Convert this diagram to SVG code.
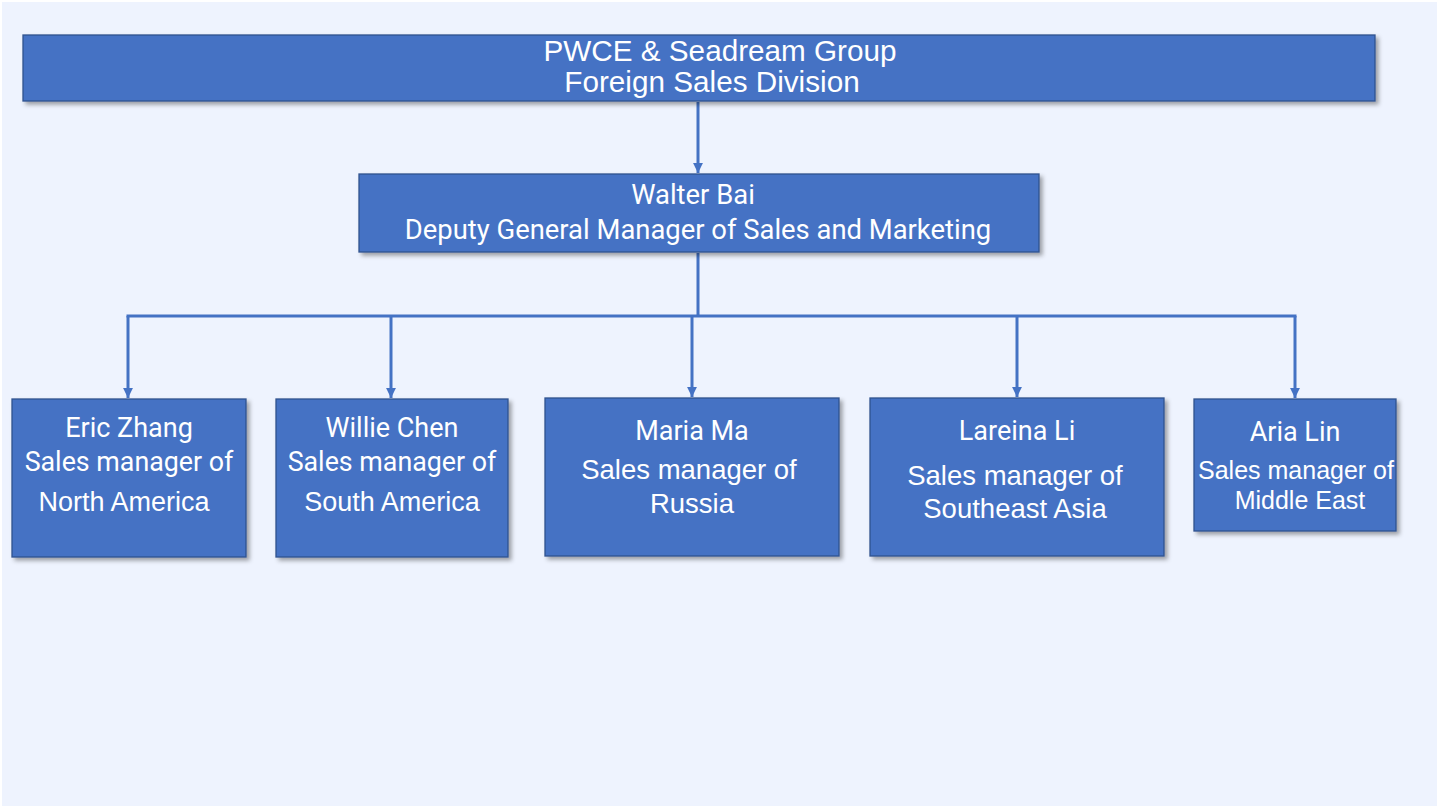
<svg xmlns="http://www.w3.org/2000/svg" width="1440" height="810" viewBox="0 0 1440 810">
<defs>
<filter id="sh" x="-10%" y="-10%" width="130%" height="140%">
<feDropShadow dx="3" dy="3" stdDeviation="2" flood-color="#000" flood-opacity="0.35"/>
</filter>
<marker id="ah" viewBox="0 0 10 10" refX="10" refY="5" markerWidth="3.3" markerHeight="3.3" orient="auto" markerUnits="strokeWidth">
<path d="M0,0 L10,5 L0,10 z" fill="#4472C4"/>
</marker>
<style>
.box{fill:#4472C4;stroke:#2F528F;stroke-width:1.3;filter:url(#sh)}
.t{fill:#ffffff;text-anchor:middle}
.a{font-family:"Liberation Sans",Arial,sans-serif}
.y{font-family:Roboto,"Noto Sans",sans-serif}
.c{fill:none;stroke:#4472C4;stroke-width:3}
</style>
</defs>
<rect x="0" y="0" width="1440" height="810" fill="#ffffff"/>
<rect x="2" y="2" width="1435" height="804" fill="#EEF3FE"/>

<g id="connectors">
<line class="c" x1="698" y1="102" x2="698" y2="173" marker-end="url(#ah)"/>
<path class="c" d="M698,253 V316 M126.5,316 H1296.5"/>
<line class="c" x1="128" y1="316" x2="128" y2="398" marker-end="url(#ah)"/>
<line class="c" x1="391" y1="316" x2="391" y2="398" marker-end="url(#ah)"/>
<line class="c" x1="692" y1="316" x2="692" y2="397" marker-end="url(#ah)"/>
<line class="c" x1="1017" y1="316" x2="1017" y2="397" marker-end="url(#ah)"/>
<line class="c" x1="1295" y1="316" x2="1295" y2="398" marker-end="url(#ah)"/>
</g>

<g id="division">
<rect class="box" x="23" y="35" width="1352" height="66"/>
<text class="t a" x="720" y="61" font-size="29.7">PWCE &amp; Seadream Group</text>
<text class="t a" x="712" y="92" font-size="29.7">Foreign Sales Division</text>
</g>

<g id="walter">
<rect class="box" x="359" y="174" width="680" height="78"/>
<text class="t y" x="693" y="204" font-size="27.4">Walter Bai</text>
<text class="t y" x="698" y="239" font-size="27.4">Deputy General Manager of Sales and Marketing</text>
</g>

<g id="eric">
<rect class="box" x="12" y="399" width="234" height="158"/>
<text class="t y" x="129" y="437" font-size="27">Eric Zhang</text>
<text class="t y" x="129" y="471" font-size="26.8">Sales manager of</text>
<text class="t a" x="124" y="511" font-size="27">North America</text>
</g>

<g id="willie">
<rect class="box" x="276" y="399" width="232" height="158"/>
<text class="t y" x="392" y="437" font-size="27">Willie Chen</text>
<text class="t y" x="392" y="471" font-size="26.8">Sales manager of</text>
<text class="t a" x="392" y="511" font-size="27">South America</text>
</g>

<g id="maria">
<rect class="box" x="545" y="398" width="294" height="158"/>
<text class="t y" x="692" y="440" font-size="27">Maria Ma</text>
<text class="t a" x="689" y="479" font-size="27.5">Sales manager of</text>
<text class="t a" x="692" y="513" font-size="27.5">Russia</text>
</g>

<g id="lareina">
<rect class="box" x="870" y="398" width="294" height="158"/>
<text class="t y" x="1017" y="440" font-size="27">Lareina Li</text>
<text class="t a" x="1015" y="485" font-size="27.5">Sales manager of</text>
<text class="t a" x="1015" y="518" font-size="27.5">Southeast Asia</text>
</g>

<g id="aria">
<rect class="box" x="1194" y="399" width="202" height="132"/>
<text class="t y" x="1295" y="441" font-size="27">Aria Lin</text>
<text class="t a" x="1296" y="479" font-size="25">Sales manager of</text>
<text class="t a" x="1300" y="509" font-size="25">Middle East</text>
</g>
</svg>
